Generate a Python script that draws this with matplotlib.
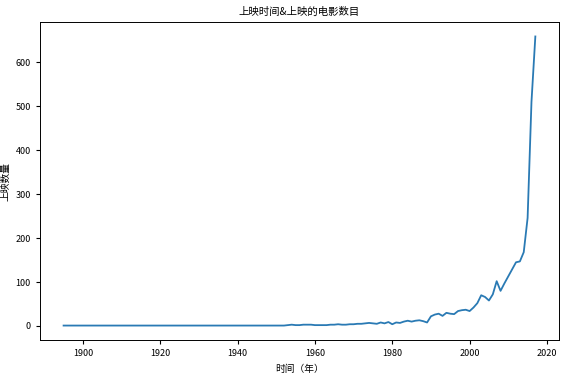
import matplotlib
matplotlib.use("Agg")
import matplotlib.pyplot as plt
import numpy as np

plt.rcParams['font.family'] = ['Noto Sans CJK SC', 'DejaVu Sans']

# yearly number of released films, 1895-2017
years = list(range(1895, 2018))
counts = [1, 1, 1, 1, 1, 1, 1, 1, 1, 1, 1, 1, 1, 1, 1,          # 1895-1909
          1, 1, 1, 1, 1, 1, 1, 1, 1, 1,                          # 1910s
          1, 1, 1, 1, 1, 1, 1, 1, 1, 1,                          # 1920s
          1, 1, 1, 1, 1, 1, 1, 1, 1, 1,                          # 1930s
          1, 1, 1, 1, 1, 1, 1, 1, 1, 1,                          # 1940s
          1, 1, 1, 2, 3, 2, 2, 3, 3, 3,                          # 1950s
          2, 2, 2, 2, 3, 3, 4, 3, 3, 4,                          # 1960s
          4, 5, 5, 6, 7, 6, 5, 8, 6, 9,                          # 1970s
          4, 8, 7, 10, 12, 10, 12, 13, 11, 8,                    # 1980s
          22, 26, 28, 23, 30, 28, 27, 34, 36, 37,                # 1990s
          34, 42, 52, 70, 66, 58, 72, 102, 80, 97,               # 2000s
          113, 129, 145, 147, 168, 246, 510, 659]                # 2010-2017

fig = plt.figure(figsize=(5.69, 3.75), dpi=100)
ax = fig.add_axes([0.0703, 0.0933, 0.912, 0.848])
ax.plot(years, counts, color='#2a7ab4', linewidth=1.3)

ax.set_title('上映时间&上映的电影数目', fontsize=7.5, pad=5)
ax.set_xlabel('时间（年）', fontsize=7)
ax.set_ylabel('上映数量', fontsize=7)
ax.tick_params(labelsize=6.5, length=3)
for s in ax.spines.values():
    s.set_linewidth(0.7)

fig.savefig('out.png', dpi=100)
